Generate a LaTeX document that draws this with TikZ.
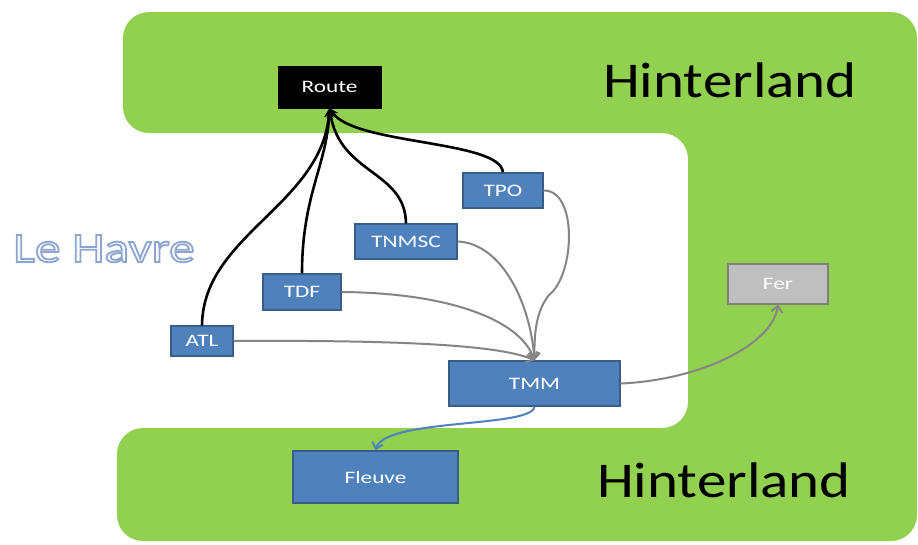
\documentclass[tikz,border=0pt]{standalone}
\usepackage{fontspec}
\setmainfont{Carlito}
\newfontfamily\lblfont[FakeStretch=1.33]{Carlito}
\newfontfamily\bigfont[FakeStretch=1.18]{Carlito}
\newfontfamily\havfont[FakeStretch=1.23]{Carlito}
\usetikzlibrary{arrows.meta}
\definecolor{hgreen}{HTML}{92D050}
\definecolor{boxblue}{HTML}{4F81BD}
\definecolor{boxedge}{HTML}{385D8A}
\definecolor{ferfill}{HTML}{BFBFBF}
\definecolor{feredge}{HTML}{7F7F7F}
\definecolor{arrgray}{HTML}{858585}
\definecolor{lhfill}{HTML}{F6F8FC}
\newcommand{\outlinedtext}[1]{%
  \special{pdf:code q 2 Tr 1.8 w 0.557 0.651 0.812 RG}#1\special{pdf:code Q}}
\tikzset{
  bluebox/.style={draw=boxedge, line width=1.4pt, fill=boxblue, text=white, inner sep=0pt,
    font=\lblfont\fontsize{17.5}{19}\selectfont},
  blackbox/.style={draw=black, fill=black, text=white, inner sep=0pt,
    font=\lblfont\fontsize{17.5}{19}\selectfont},
  greybox/.style={draw=feredge, line width=1.4pt, fill=ferfill, text=white, inner sep=0pt,
    font=\lblfont\fontsize{17.5}{19}\selectfont},
  roadarrow/.style={draw=black, line width=2.6pt, -{Stealth[length=9pt,width=9pt]}},
  greyarrow/.style={draw=arrgray, line width=2pt, -{Straight Barb[length=6pt,width=11pt,line width=2pt]}},
  bluearrow/.style={draw=boxblue, line width=2pt, -{Straight Barb[length=6pt,width=11pt,line width=2pt]}},
  bigtext/.style={anchor=base west, inner sep=0pt, font=\bigfont\fontsize{50}{55}\selectfont},
}
\begin{document}
\begin{tikzpicture}[x=1pt,y=-1pt]
\useasboundingbox[fill=white] (0,0) rectangle (918,544);
% green hinterland shape
\fill[hgreen, rounded corners=26pt]
  (123,12) -- (917,12) -- (917,541) -- (117,541) -- (117,428) -- (688,428)
  -- (688,133) -- (123,133) -- cycle;
% texts
\node[bigtext] (h1) at (603,97) {Hinterland};
\node[bigtext] (h2) at (597,497) {Hinterland};
\node[anchor=base west, inner sep=0pt, text=lhfill, font=\havfont\fontsize{42}{46}\selectfont]
  (lh) at (13,262) {\outlinedtext{Le Havre}};
% nodes
\node[blackbox, minimum width=103pt, minimum height=42pt] (route) at (329.5,87) {Route};
\node[bluebox, minimum width=80pt, minimum height=35pt] (tpo) at (503,190.5) {TPO};
\node[bluebox, minimum width=102pt, minimum height=35pt] (tnmsc) at (406,241.5) {TNMSC};
\node[bluebox, minimum width=78pt, minimum height=36pt] (tdf) at (302,292) {TDF};
\node[bluebox, minimum width=62pt, minimum height=30pt] (atl) at (202,341) {ATL};
\node[bluebox, minimum width=171pt, minimum height=45pt] (tmm) at (534.5,383.5) {TMM};
\node[bluebox, minimum width=165pt, minimum height=52pt] (fleuve) at (375.5,477) {Fleuve};
\node[greybox, minimum width=100pt, minimum height=40pt] (fer) at (778,284) {Fer};
% road connectors
\draw[roadarrow] (atl.north) .. controls (203,235) and (322,205) .. (route.south);
\draw[roadarrow] (tdf.north) .. controls (302,195) and (327,165) .. (route.south);
\draw[roadarrow] (tnmsc.north) .. controls (405,170) and (340,175) .. (route.south);
\draw[roadarrow] (tpo.north) .. controls (500,140) and (355,145) .. (route.south);
% grey connectors to TMM
\draw[greyarrow] (tpo.east) .. controls (578,190) and (575,275) .. (549,295)
  .. controls (537,310) and (534,330) .. (tmm.north);
\draw[greyarrow] (tnmsc.east) .. controls (500,243) and (530,300) .. (tmm.north);
\draw[greyarrow] (tdf.east) .. controls (450,293) and (520,320) .. (tmm.north);
\draw[greyarrow] (atl.east) .. controls (400,340) and (500,345) .. (tmm.north);
% outgoing
\draw[greyarrow] (tmm.east) .. controls (700,380) and (772,345) .. (fer.south);
\draw[bluearrow] (tmm.south) .. controls (532,428) and (385,418) .. (fleuve.north);
\end{tikzpicture}
\end{document}
